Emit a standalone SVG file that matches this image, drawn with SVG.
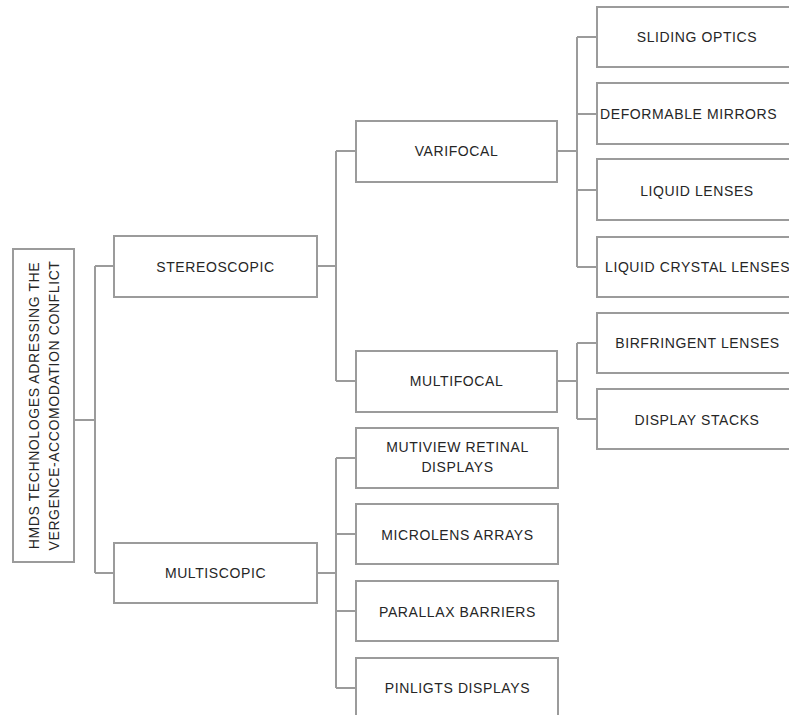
<svg xmlns="http://www.w3.org/2000/svg" width="789" height="715" viewBox="0 0 789 715">
  <style>
    rect.box { fill: #ffffff; stroke: #9b9b9b; stroke-width: 2; }
    .link { fill: none; stroke: #9b9b9b; stroke-width: 2; }
    text { font-family: "Liberation Sans", Arial, sans-serif; font-size: 14px; letter-spacing: 0.6px; fill: #262626; text-anchor: middle; }
  </style>
  <rect width="789" height="715" fill="#ffffff"/>

  <!-- tree connectors -->
  <g id="connectors">
    <!-- root to level 1 -->
    <path class="link" d="M74,420 H95 M95,266 V573 M95,266 H114 M95,573 H114"/>
    <!-- stereoscopic branch -->
    <path class="link" d="M317,266 H336 M336,151 V381 M336,151 H356 M336,381 H356"/>
    <!-- multiscopic branch -->
    <path class="link" d="M317,573 H336 M336,458 V688 M336,458 H356 M336,534 H356 M336,611 H356 M336,688 H356"/>
    <!-- varifocal branch -->
    <path class="link" d="M557,151 H577 M577,37 V267 M577,37 H597 M577,114 H597 M577,190 H597 M577,267 H597"/>
    <!-- multifocal branch -->
    <path class="link" d="M557,381 H577 M577,343 V419 M577,343 H597 M577,419 H597"/>
  </g>

  <g id="root">
    <rect class="box" x="13" y="249" width="61" height="313"/>
    <text transform="translate(38.5,405.5) rotate(-90)">HMDS TECHNOLOGES ADRESSING THE</text>
    <text transform="translate(58.5,405.5) rotate(-90)">VERGENCE-ACCOMODATION CONFLICT</text>
  </g>

  <g id="stereoscopic">
    <rect class="box" x="114" y="236" width="203" height="61"/>
    <text x="215.5" y="271.5">STEREOSCOPIC</text>
  </g>
  <g id="multiscopic">
    <rect class="box" x="114" y="543" width="203" height="60"/>
    <text x="215.5" y="578">MULTISCOPIC</text>
  </g>

  <g id="varifocal">
    <rect class="box" x="356" y="121" width="201" height="61"/>
    <text x="456.5" y="156">VARIFOCAL</text>
  </g>
  <g id="multifocal">
    <rect class="box" x="356" y="351" width="201" height="61"/>
    <text x="456.5" y="386">MULTIFOCAL</text>
  </g>

  <g id="multiview-retinal">
    <rect class="box" x="356" y="428" width="202" height="60"/>
    <text x="457.5" y="452">MUTIVIEW RETINAL</text>
    <text x="457.5" y="472">DISPLAYS</text>
  </g>
  <g id="microlens">
    <rect class="box" x="356" y="504" width="202" height="60"/>
    <text x="457.5" y="539.5">MICROLENS ARRAYS</text>
  </g>
  <g id="parallax">
    <rect class="box" x="356" y="581" width="202" height="60"/>
    <text x="457.5" y="616.5">PARALLAX BARRIERS</text>
  </g>
  <g id="pinlight">
    <rect class="box" x="356" y="658" width="202" height="60"/>
    <text x="457.5" y="693">PINLIGTS DISPLAYS</text>
  </g>

  <g id="sliding-optics">
    <rect class="box" x="597" y="7" width="201" height="60"/>
    <text x="697" y="42">SLIDING OPTICS</text>
  </g>
  <g id="deformable-mirrors">
    <rect class="box" x="597" y="83" width="201" height="61"/>
    <text x="600" y="119" style="text-anchor:start">DEFORMABLE MIRRORS</text>
  </g>
  <g id="liquid-lenses">
    <rect class="box" x="597" y="159" width="201" height="61"/>
    <text x="697" y="195.5">LIQUID LENSES</text>
  </g>
  <g id="liquid-crystal-lenses">
    <rect class="box" x="597" y="237" width="201" height="60"/>
    <text x="605" y="272" style="text-anchor:start">LIQUID CRYSTAL LENSES</text>
  </g>
  <g id="birefringent-lenses">
    <rect class="box" x="597" y="313" width="201" height="60"/>
    <text x="697.5" y="348">BIRFRINGENT LENSES</text>
  </g>
  <g id="display-stacks">
    <rect class="box" x="597" y="389" width="201" height="60"/>
    <text x="697" y="424.5">DISPLAY STACKS</text>
  </g>
</svg>
